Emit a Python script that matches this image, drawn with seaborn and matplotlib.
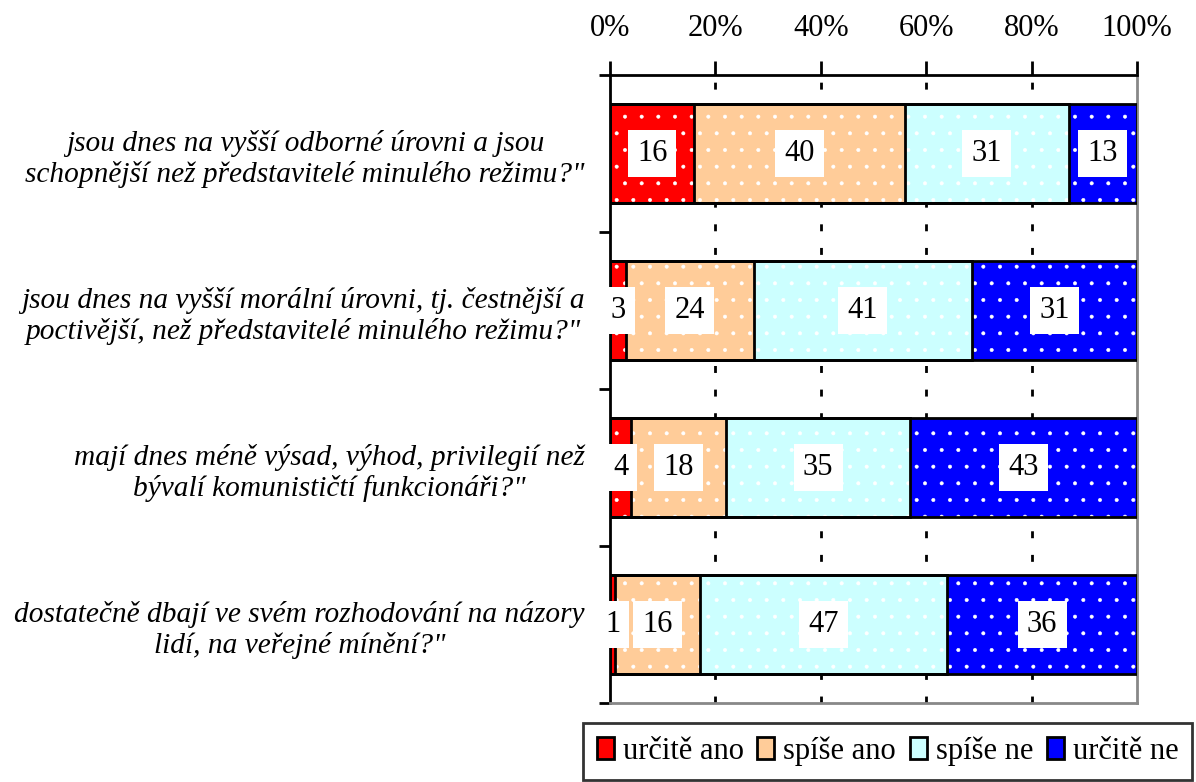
import numpy as np
import matplotlib
matplotlib.use("Agg")
import matplotlib.pyplot as plt
from matplotlib.patches import Patch
import seaborn as sns

questions = [
    "jsou dnes na vyšší odborné úrovni a jsou\nschopnější než představitelé minulého režimu?\"",
    "jsou dnes na vyšší morální úrovni, tj. čestnější a\npoctivější, než představitelé minulého režimu?\"",
    "mají dnes méně výsad, výhod, privilegií než\nbývalí komunističtí funkcionáři?\"",
    "dostatečně dbají ve svém rozhodování na názory\nlidí, na veřejné mínění?\"",
]
series_names = ["určitě ano", "spíše ano", "spíše ne", "určitě ne"]
urcite_ano = [16, 3, 4, 1]
spise_ano = [40, 24, 18, 16]
spise_ne = [31, 41, 35, 47]
urcite_ne = [13, 31, 43, 36]
colors = ["#FF0000", "#FFCC99", "#CCFFFF", "#0000FF"]
x_ticks = [0, 20, 40, 60, 80, 100]

sns.set_style("white")
plt.rcParams["font.family"] = ["Liberation Serif", "DejaVu Serif"]
plt.rcParams["text.color"] = "black"
plt.rcParams["xtick.color"] = "black"
plt.rcParams["ytick.color"] = "black"
plt.rcParams["hatch.color"] = "white"
plt.rcParams["hatch.linewidth"] = 0.4

values = np.array([urcite_ano, spise_ano, spise_ne, urcite_ne], dtype=float)
# 100% stacked: each row scaled to its total
share = values / values.sum(axis=0) * 100
cum = share.cumsum(axis=0)

fig = plt.figure(figsize=(11.96, 7.82), dpi=100)
ax = fig.add_axes([0.510, 0.101, 0.4407, 0.803])

# gridlines behind the bars
for t in x_ticks[1:-1]:
    ax.axvline(t, color="black", lw=2, ls=(0, (2.5, 6)), zorder=0)

# filled layers, biggest cumulative first
for i in range(len(series_names) - 1, -1, -1):
    sns.barplot(x=cum[i], y=questions, orient="h", color=colors[i], saturation=1,
                width=0.63, errorbar=None, edgecolor="white", linewidth=0,
                hatch=".", ax=ax, zorder=2)
for p in ax.patches:
    if hasattr(p, "set_hatchcolor"):
        p.set_hatchcolor("white")

# outlines on top
for i in range(len(series_names) - 1, -1, -1):
    sns.barplot(x=cum[i], y=questions, orient="h", fill=False, color="black",
                width=0.63, errorbar=None, linewidth=2, ax=ax, zorder=3)
for p in ax.patches:
    if p.get_fill() is False:
        p.set_edgecolor("black")

# value labels
for i in range(len(series_names)):
    for j in range(len(questions)):
        ax.text(cum[i, j] - share[i, j] / 2, j, f"{values[i, j]:.0f}",
                ha="center", va="center", fontsize=22, zorder=5,
                bbox=dict(boxstyle="square,pad=0.3", facecolor="white", edgecolor="none"))

ax.set_xlim(0, 100)
ax.set_ylim(len(questions) - 0.5, -0.5)
ax.xaxis.tick_top()
ax.set_xticks(x_ticks)
ax.set_xticklabels([f"{t}%" for t in x_ticks], fontsize=22)
ax.tick_params(axis="x", which="major", direction="out", length=10, width=2,
               pad=13, top=True, bottom=False, color="black")

ax.set_yticks(np.arange(-0.5, len(questions), 1.0))
ax.set_yticklabels([])
ax.set_yticks(np.arange(len(questions)), minor=True)
ax.set_yticklabels(questions, minor=True, fontsize=21.2, style="italic",
                   ha="right", multialignment="center")
ax.tick_params(axis="y", which="major", direction="out", length=8, width=2,
               left=True, color="black")
ax.tick_params(axis="y", which="minor", length=0, pad=18)
ax.set_xlabel("")
ax.set_ylabel("")

for side in ["left", "top"]:
    ax.spines[side].set_color("black")
    ax.spines[side].set_linewidth(2)
for side in ["right", "bottom"]:
    ax.spines[side].set_color("#888888")
    ax.spines[side].set_linewidth(2)

handles = []
for c in colors:
    h = Patch(facecolor=c, edgecolor="black", linewidth=2)
    if hasattr(h, "set_hatchcolor"):
        h.set_hatch(".")
        h.set_hatchcolor("white")
    handles.append(h)
leg = fig.legend(handles, series_names, loc="lower right", bbox_to_anchor=(0.997, 0.003),
                 ncol=4, fontsize=22, frameon=True, fancybox=False, borderaxespad=0,
                 handlelength=0.55, handleheight=0.75, handletextpad=0.3,
                 columnspacing=0.45, borderpad=0.45)
leg.get_frame().set_edgecolor("black")
leg.get_frame().set_linewidth(2)

fig.savefig("out.png", dpi=100)
